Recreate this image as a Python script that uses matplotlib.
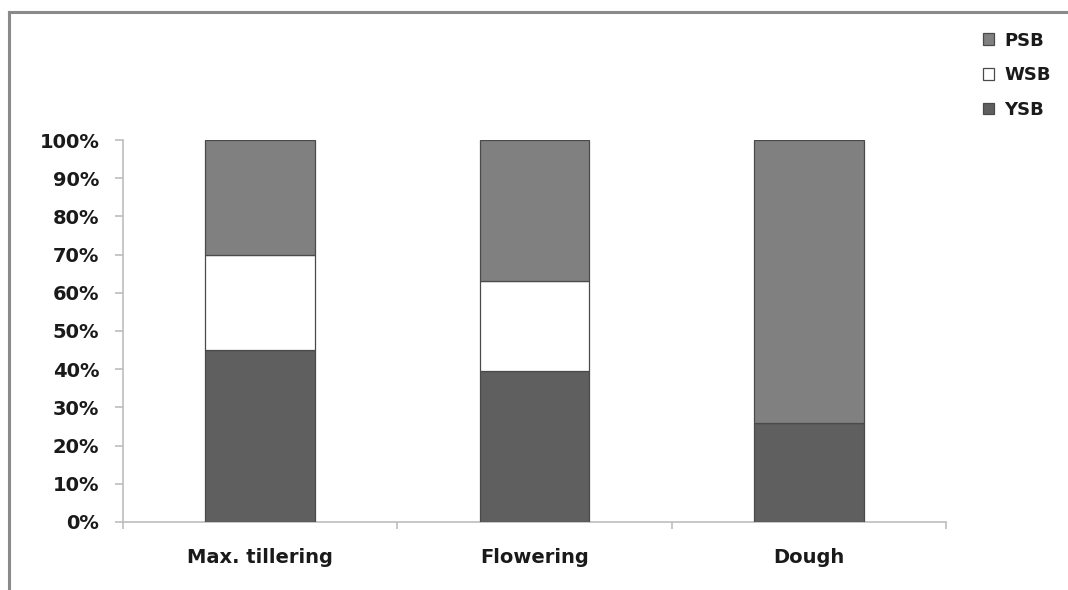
import matplotlib
matplotlib.use('Agg')
import matplotlib.pyplot as plt
from matplotlib.patches import Patch
from matplotlib.lines import Line2D
from matplotlib.ticker import FixedLocator, PercentFormatter
import numpy as np

# share of each borer species at the three crop stages (%)
stages = ['Max. tillering', 'Flowering', 'Dough']
ysb = [45.0, 39.5, 26.0]
wsb = [25.0, 23.5, 0.0]
psb = [30.0, 37.0, 74.0]

colors = {'YSB': '#5f5f5f', 'WSB': '#ffffff', 'PSB': '#808080'}
edge = '#4a4a4a'
text_color = '#1a1a1a'
axis_color = '#bdbdbd'

plt.rcParams['font.family'] = ['DejaVu Sans']
plt.rcParams['font.weight'] = 'bold'

fig = plt.figure(figsize=(10.68, 5.90), dpi=100)
ax = fig.add_axes([0.1152, 0.1153, 0.7706, 0.6474])

x = np.arange(len(stages))
width = 0.40
bottom = np.zeros(len(stages))
for name, vals in [('YSB', ysb), ('WSB', wsb), ('PSB', psb)]:
    vals = np.array(vals)
    ax.bar(x, vals, width, bottom=bottom, color=colors[name],
           edgecolor=edge, linewidth=0.9, zorder=3)
    bottom += vals

ax.set_xlim(-0.5, len(stages) - 0.5)
ax.set_ylim(0, 100)
ax.set_yticks(np.arange(0, 101, 10))
ax.yaxis.set_major_formatter(PercentFormatter(decimals=0))
ax.set_xticks(x)
ax.set_xticklabels(stages)
ax.xaxis.set_minor_locator(FixedLocator(np.arange(-0.5, len(stages), 1.0)))

for s in ['top', 'right']:
    ax.spines[s].set_visible(False)
for s in ['left', 'bottom']:
    ax.spines[s].set_color(axis_color)
    ax.spines[s].set_linewidth(1.2)

ax.tick_params(axis='y', length=6, width=1.2, color=axis_color, pad=11,
               labelsize=14, labelcolor=text_color)
ax.tick_params(axis='x', which='major', length=0, pad=19,
               labelsize=14, labelcolor=text_color)
ax.tick_params(axis='x', which='minor', length=5, width=1.2, color=axis_color)

handles = [Patch(facecolor=colors[n], edgecolor=edge, linewidth=0.9)
           for n in ['PSB', 'WSB', 'YSB']]
fig.legend(handles, ['PSB', 'WSB', 'YSB'], loc='upper left',
           bbox_to_anchor=(0.905, 0.974), frameon=False,
           handlelength=0.6, handleheight=0.6, handletextpad=0.6,
           labelspacing=0.92, prop={'size': 13, 'weight': 'bold'},
           labelcolor=text_color)

# grey frame along the top and left edges
fig.add_artist(Line2D([9 / 1068, 9 / 1068], [0, 1 - 12 / 590],
                      transform=fig.transFigure, color='#8a8a8a', lw=2.2))
fig.add_artist(Line2D([9 / 1068, 1], [1 - 12 / 590, 1 - 12 / 590],
                      transform=fig.transFigure, color='#8a8a8a', lw=2.2))

fig.savefig('out.png', dpi=100)
